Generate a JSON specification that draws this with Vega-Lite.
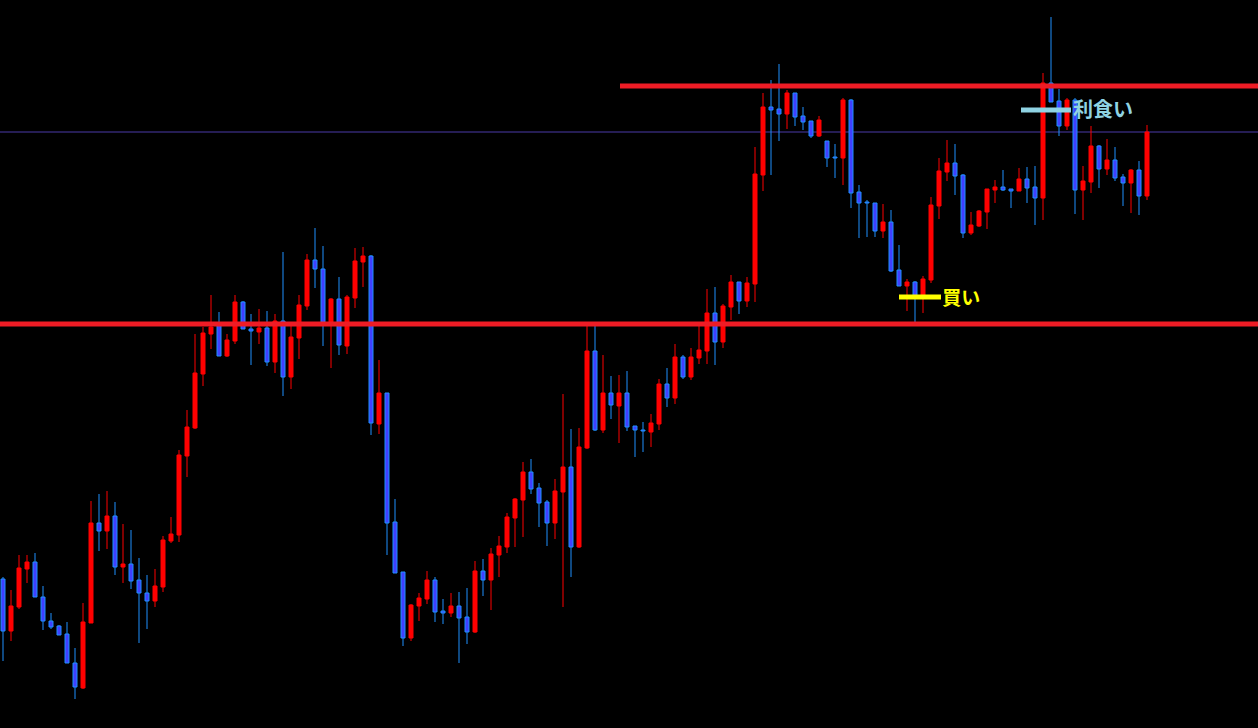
{
  "$schema": "https://vega.github.io/schema/vega-lite/v6.json",
  "autosize": {"type": "none"},
  "width": 1258,
  "height": 728,
  "padding": 0,
  "background": "#000000",
  "config": {"view": {"stroke": null}},
  "datasets": {
    "candles": [
      {"t":0,"o":149,"h":151,"l":67,"c":97},{"t":1,"o":97,"h":138,"l":87,"c":122},{"t":2,"o":121,"h":173,"l":119,"c":160},{"t":3,"o":159,"h":173,"l":145,"c":166},
      {"t":4,"o":166,"h":175,"l":131,"c":131},{"t":5,"o":131,"h":142,"l":98,"c":107},{"t":6,"o":107,"h":115,"l":99,"c":101},{"t":7,"o":102,"h":103,"l":93,"c":93},
      {"t":8,"o":94,"h":106,"l":65,"c":65},{"t":9,"o":65,"h":80,"l":29,"c":41},{"t":10,"o":40,"h":125,"l":39,"c":106},{"t":11,"o":105,"h":227,"l":105,"c":205},
      {"t":12,"o":205,"h":234,"l":177,"c":197},{"t":13,"o":197,"h":237,"l":179,"c":212},{"t":14,"o":212,"h":226,"l":153,"c":161},{"t":15,"o":161,"h":204,"l":145,"c":164},
      {"t":16,"o":164,"h":198,"l":139,"c":147},{"t":17,"o":148,"h":170,"l":85,"c":135},{"t":18,"o":135,"h":153,"l":99,"c":127},{"t":19,"o":127,"h":159,"l":121,"c":142},
      {"t":20,"o":141,"h":192,"l":136,"c":188},{"t":21,"o":187,"h":211,"l":185,"c":194},{"t":22,"o":193,"h":278,"l":186,"c":273},{"t":23,"o":272,"h":318,"l":251,"c":301},
      {"t":24,"o":300,"h":394,"l":299,"c":355},{"t":25,"o":354,"h":401,"l":342,"c":395},{"t":26,"o":394,"h":433,"l":379,"c":401},{"t":27,"o":403,"h":416,"l":372,"c":372},
      {"t":28,"o":372,"h":394,"l":371,"c":388},{"t":29,"o":387,"h":433,"l":384,"c":426},{"t":30,"o":426,"h":427,"l":399,"c":399},{"t":31,"o":399,"h":414,"l":363,"c":397},
      {"t":32,"o":396,"h":419,"l":384,"c":400},{"t":33,"o":400,"h":417,"l":362,"c":366},{"t":34,"o":366,"h":414,"l":355,"c":407},{"t":35,"o":407,"h":476,"l":332,"c":351},
      {"t":36,"o":351,"h":405,"l":339,"c":391},{"t":37,"o":390,"h":433,"l":369,"c":423},{"t":38,"o":422,"h":474,"l":418,"c":468},{"t":39,"o":468,"h":500,"l":440,"c":459},
      {"t":40,"o":459,"h":482,"l":382,"c":406},{"t":41,"o":406,"h":430,"l":360,"c":429},{"t":42,"o":429,"h":451,"l":373,"c":383},{"t":43,"o":382,"h":433,"l":374,"c":431},
      {"t":44,"o":430,"h":480,"l":420,"c":467},{"t":45,"o":466,"h":481,"l":441,"c":472},{"t":46,"o":472,"h":473,"l":293,"c":305},{"t":47,"o":304,"h":368,"l":294,"c":335},
      {"t":48,"o":335,"h":335,"l":173,"c":205},{"t":49,"o":206,"h":229,"l":155,"c":155},{"t":50,"o":156,"h":156,"l":82,"c":90},{"t":51,"o":90,"h":124,"l":87,"c":123},
      {"t":52,"o":122,"h":135,"l":107,"c":130},{"t":53,"o":129,"h":157,"l":124,"c":148},{"t":54,"o":148,"h":151,"l":106,"c":116},{"t":55,"o":117,"h":129,"l":104,"c":115},
      {"t":56,"o":115,"h":135,"l":111,"c":122},{"t":57,"o":122,"h":136,"l":65,"c":110},{"t":58,"o":111,"h":140,"l":84,"c":96},{"t":59,"o":96,"h":167,"l":95,"c":157},
      {"t":60,"o":157,"h":169,"l":132,"c":148},{"t":61,"o":148,"h":180,"l":118,"c":174},{"t":62,"o":173,"h":192,"l":151,"c":182},{"t":63,"o":181,"h":215,"l":175,"c":211},
      {"t":64,"o":210,"h":230,"l":181,"c":229},{"t":65,"o":228,"h":266,"l":191,"c":256},{"t":66,"o":256,"h":269,"l":234,"c":239},{"t":67,"o":240,"h":245,"l":201,"c":225},
      {"t":68,"o":226,"h":228,"l":182,"c":205},{"t":69,"o":205,"h":249,"l":189,"c":237},{"t":70,"o":236,"h":334,"l":121,"c":261},{"t":71,"o":261,"h":299,"l":151,"c":181},
      {"t":72,"o":181,"h":300,"l":180,"c":281},{"t":73,"o":280,"h":405,"l":279,"c":377},{"t":74,"o":377,"h":403,"l":297,"c":298},{"t":75,"o":298,"h":373,"l":295,"c":335},
      {"t":76,"o":335,"h":352,"l":309,"c":323},{"t":77,"o":322,"h":353,"l":285,"c":335},{"t":78,"o":335,"h":357,"l":297,"c":301},{"t":79,"o":302,"h":302,"l":271,"c":298},
      {"t":80,"o":298,"h":306,"l":276,"c":297},{"t":81,"o":296,"h":314,"l":281,"c":305},{"t":82,"o":304,"h":349,"l":298,"c":344},{"t":83,"o":344,"h":360,"l":321,"c":330},
      {"t":84,"o":330,"h":384,"l":324,"c":371},{"t":85,"o":371,"h":373,"l":349,"c":351},{"t":86,"o":351,"h":380,"l":348,"c":371},{"t":87,"o":370,"h":403,"l":364,"c":378},
      {"t":88,"o":377,"h":439,"l":364,"c":415},{"t":89,"o":415,"h":441,"l":363,"c":386},{"t":90,"o":386,"h":424,"l":380,"c":422},{"t":91,"o":421,"h":453,"l":408,"c":446},
      {"t":92,"o":446,"h":446,"l":414,"c":427},{"t":93,"o":427,"h":451,"l":421,"c":445},{"t":94,"o":444,"h":581,"l":426,"c":554},{"t":95,"o":553,"h":635,"l":537,"c":621},
      {"t":96,"o":621,"h":648,"l":553,"c":618},{"t":97,"o":619,"h":664,"l":587,"c":614},{"t":98,"o":614,"h":638,"l":599,"c":635},{"t":99,"o":635,"h":635,"l":602,"c":611},
      {"t":100,"o":612,"h":621,"l":598,"c":606},{"t":101,"o":607,"h":607,"l":590,"c":592},{"t":102,"o":592,"h":612,"l":591,"c":608},{"t":103,"o":587,"h":587,"l":561,"c":570},
      {"t":104,"o":571,"h":584,"l":550,"c":570},{"t":105,"o":570,"h":630,"l":543,"c":628},{"t":106,"o":628,"h":629,"l":520,"c":535},{"t":107,"o":536,"h":543,"l":490,"c":525},
      {"t":108,"o":526,"h":528,"l":491,"c":525},{"t":109,"o":525,"h":525,"l":491,"c":497},{"t":110,"o":497,"h":524,"l":490,"c":506},{"t":111,"o":506,"h":518,"l":456,"c":457},
      {"t":112,"o":458,"h":483,"l":442,"c":442},{"t":113,"o":442,"h":449,"l":417,"c":446},{"t":114,"o":446,"h":447,"l":406,"c":431},{"t":115,"o":432,"h":452,"l":415,"c":449},
      {"t":116,"o":448,"h":531,"l":445,"c":523},{"t":117,"o":522,"h":570,"l":509,"c":557},{"t":118,"o":556,"h":588,"l":547,"c":565},{"t":119,"o":565,"h":584,"l":533,"c":552},
      {"t":120,"o":553,"h":554,"l":490,"c":495},{"t":121,"o":495,"h":516,"l":493,"c":503},{"t":122,"o":502,"h":518,"l":501,"c":517},{"t":123,"o":516,"h":539,"l":499,"c":539},
      {"t":124,"o":538,"h":548,"l":525,"c":541},{"t":125,"o":541,"h":558,"l":537,"c":538},{"t":126,"o":539,"h":539,"l":520,"c":537},{"t":127,"o":537,"h":560,"l":537,"c":549},
      {"t":128,"o":549,"h":561,"l":525,"c":540},{"t":129,"o":541,"h":562,"l":503,"c":530},{"t":130,"o":530,"h":655,"l":508,"c":645},{"t":131,"o":645,"h":711,"l":626,"c":626},
      {"t":132,"o":627,"h":639,"l":592,"c":602},{"t":133,"o":602,"h":630,"l":598,"c":628},{"t":134,"o":628,"h":630,"l":514,"c":538},{"t":135,"o":538,"h":562,"l":508,"c":547},
      {"t":136,"o":546,"h":602,"l":535,"c":582},{"t":137,"o":582,"h":583,"l":540,"c":559},{"t":138,"o":559,"h":589,"l":553,"c":568},{"t":139,"o":568,"h":581,"l":547,"c":550},
      {"t":140,"o":551,"h":554,"l":522,"c":545},{"t":141,"o":545,"h":559,"l":515,"c":558},{"t":142,"o":558,"h":567,"l":513,"c":532},{"t":143,"o":532,"h":603,"l":528,"c":596}
    ]
  },
  "layer": [
    {
      "data": {"values": [{"p": 596}]},
      "mark": {"type": "rule", "color": "#4a3aa8", "strokeWidth": 1},
      "encoding": {"y": {"field": "p", "type": "quantitative", "scale": {"domain": [0, 728], "nice": false, "zero": false}, "axis": null}}
    },
    {
      "data": {"name": "candles"},
      "mark": {"type": "rule", "strokeWidth": 1},
      "encoding": {
        "x": {"field": "t", "type": "quantitative", "scale": {"domain": [-0.375, 156.875], "nice": false, "zero": false, "padding": 0}, "axis": null},
        "y": {"field": "l", "type": "quantitative", "scale": {"domain": [0, 728], "nice": false, "zero": false}, "axis": null},
        "y2": {"field": "h"},
        "color": {"condition": {"test": "datum.c > datum.o", "value": "#ff0000"}, "value": "#1e90ff"}
      }
    },
    {
      "data": {"name": "candles"},
      "mark": {"type": "bar", "size": 4, "strokeWidth": 1},
      "encoding": {
        "x": {"field": "t", "type": "quantitative"},
        "y": {"field": "o", "type": "quantitative"},
        "y2": {"field": "c"},
        "fill": {"condition": {"test": "datum.c > datum.o", "value": "#ff0000"}, "value": "#4040ff"},
        "stroke": {"condition": {"test": "datum.c > datum.o", "value": "#ff0000"}, "value": "#1e90ff"}
      }
    },
    {
      "data": {"values": [{"p": 404}]},
      "mark": {"type": "rule", "color": "#ee1c25", "strokeWidth": 5},
      "encoding": {"y": {"field": "p", "type": "quantitative"}}
    },
    {
      "data": {"values": [{"t1": 77.125, "t2": 156.875, "p": 642}]},
      "mark": {"type": "rule", "color": "#ee1c25", "strokeWidth": 5},
      "encoding": {
        "x": {"field": "t1", "type": "quantitative"},
        "x2": {"field": "t2"},
        "y": {"field": "p", "type": "quantitative"}
      }
    },
    {
      "data": {"values": [{"t1": 112, "t2": 117.25, "p": 431}]},
      "mark": {"type": "rule", "color": "#ffff00", "strokeWidth": 5},
      "encoding": {
        "x": {"field": "t1", "type": "quantitative"},
        "x2": {"field": "t2"},
        "y": {"field": "p", "type": "quantitative"}
      }
    },
    {
      "data": {"values": [{"t1": 127.25, "t2": 133.5, "p": 618}]},
      "mark": {"type": "rule", "color": "#8fd3e3", "strokeWidth": 5},
      "encoding": {
        "x": {"field": "t1", "type": "quantitative"},
        "x2": {"field": "t2"},
        "y": {"field": "p", "type": "quantitative"}
      }
    },
    {
      "data": {"values": [{"t": 117.4, "p": 429, "label": "買い"}]},
      "mark": {"type": "text", "align": "left", "baseline": "middle", "font": "Noto Sans CJK JP", "fontWeight": "bold", "fontSize": 19, "color": "#ffff00"},
      "encoding": {
        "x": {"field": "t", "type": "quantitative"},
        "y": {"field": "p", "type": "quantitative"},
        "text": {"field": "label"}
      }
    },
    {
      "data": {"values": [{"t": 133.75, "p": 617, "label": "利食い"}]},
      "mark": {"type": "text", "align": "left", "baseline": "middle", "font": "Noto Sans CJK JP", "fontWeight": "bold", "fontSize": 20, "color": "#8fd3e3"},
      "encoding": {
        "x": {"field": "t", "type": "quantitative"},
        "y": {"field": "p", "type": "quantitative"},
        "text": {"field": "label"}
      }
    }
  ]
}
